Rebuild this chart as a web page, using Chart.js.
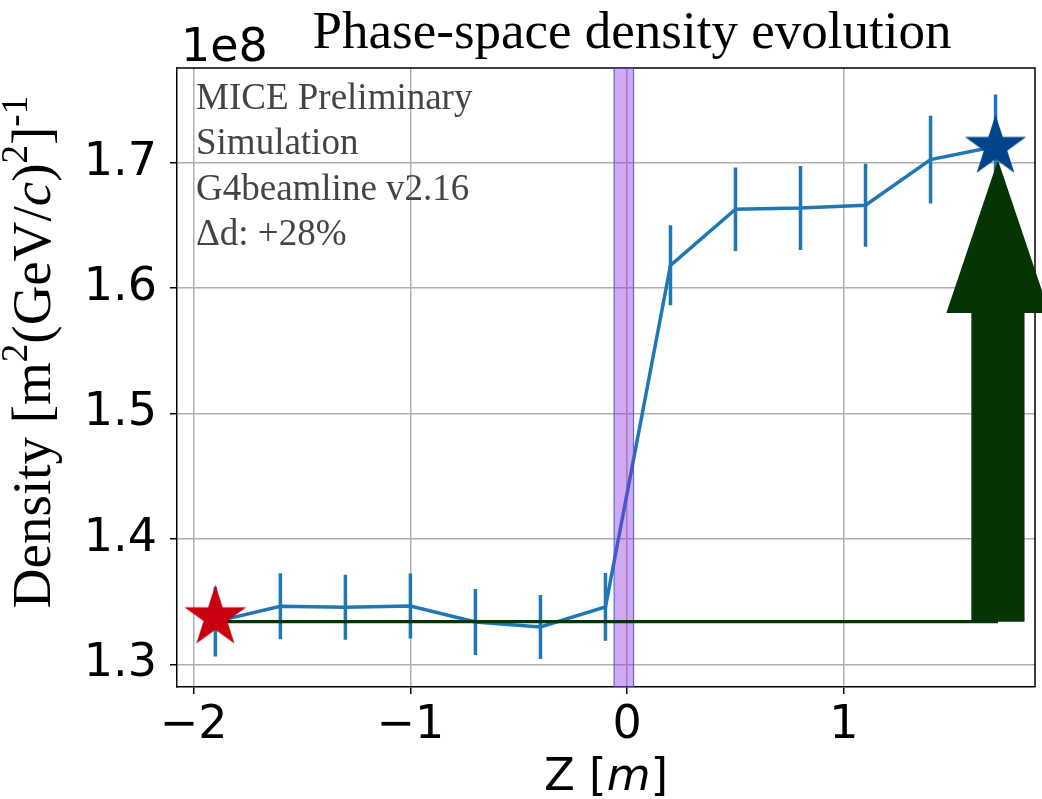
<!DOCTYPE html>
<html><head><meta charset="utf-8">
<script src="https://cdn.jsdelivr.net/npm/chart.js@4.4.0/dist/chart.umd.min.js"></script>
<style>html,body{margin:0;padding:0;background:#fff;overflow:hidden}#wrap{width:1042px;height:799px;position:relative}</style>
</head><body><div id="wrap"><canvas id="c"></canvas></div>
<script>
// ---- data ----
const zPositions = [-1.9, -1.6, -1.3, -1.0, -0.7, -0.4, -0.1, 0.2, 0.5, 0.8, 1.1, 1.4, 1.7];
const densities = [1.334, 1.3462, 1.3454, 1.3465, 1.3337, 1.3297, 1.3457, 1.6181, 1.6628, 1.6638, 1.6660, 1.7024, 1.7128];
const densityErrors = [0.0277, 0.0263, 0.0259, 0.0259, 0.0263, 0.0255, 0.0270, 0.0319, 0.0333, 0.0335, 0.0331, 0.0350, 0.0414];
const xTicks = [-2, -1, 0, 1];
const yTicks = [1.3, 1.4, 1.5, 1.6, 1.7];
const absorberZone = [-0.060, 0.0295];
const startStar = [-1.9, 1.3375];
const endStar = [1.7, 1.7125];
const referenceLevel = 1.334;
const referenceSpan = [-1.9, 1.711];
const arrowZ = 1.711;
const arrowRange = [1.334, 1.702];
const annotations = ['MICE Preliminary', 'Simulation', 'G4beamline v2.16', 'Δd: +28%'];
const titleText = 'Phase-space density evolution';
const offsetText = '1e8';

// ---- config ----
const X_MIN = -2.077, X_MAX = 1.882, Y_MIN = 1.2819, Y_MAX = 1.7754;
const SERIF = '"Liberation Serif", "Times New Roman", serif';
const SANS = '"DejaVu Sans", sans-serif';

function makeStar(color, R) {
  const s = Math.ceil(R * 2 + 4);
  const cv = document.createElement('canvas');
  cv.width = s; cv.height = s;
  const g = cv.getContext('2d');
  const r = R * 0.381966;
  g.beginPath();
  for (let i = 0; i < 10; i++) {
    const rr = i % 2 === 0 ? R : r;
    const a = -Math.PI / 2 + i * Math.PI / 5;
    const px = s / 2 + rr * Math.cos(a), py = s / 2 + rr * Math.sin(a);
    if (i === 0) g.moveTo(px, py); else g.lineTo(px, py);
  }
  g.closePath();
  g.fillStyle = color; g.fill();
  return cv;
}

const lineData = zPositions.map((z, i) => ({x: z, y: densities[i]}));
const errData = [];
zPositions.forEach((z, i) => {
  errData.push({x: z, y: densities[i] - densityErrors[i]}, {x: z, y: densities[i] + densityErrors[i]}, {x: z, y: null});
});
const bandData = [
  {x: absorberZone[0], y: Y_MIN}, {x: absorberZone[0], y: Y_MAX},
  {x: absorberZone[1], y: Y_MAX}, {x: absorberZone[1], y: Y_MIN}, {x: absorberZone[0], y: Y_MIN}
];
const refData = [{x: referenceSpan[0], y: referenceLevel}, {x: referenceSpan[1], y: referenceLevel}];

const arrowPlugin = {
  id: 'arrow',
  beforeDatasetDraw(chart, args) {
    if (chart.data.datasets[args.index].label !== 'start') return;
    const xs = chart.scales.x, ys = chart.scales.y, ctx = chart.ctx;
    const cx = xs.getPixelForValue(arrowZ);
    const yb = ys.getPixelForValue(arrowRange[0]);
    const yt = ys.getPixelForValue(arrowRange[1]);
    const headLen = 153, shaftHalf = 26.6, headHalf = 51.6;
    ctx.save();
    ctx.fillStyle = '#053505';
    ctx.beginPath();
    ctx.moveTo(cx - shaftHalf, yb);
    ctx.lineTo(cx - shaftHalf, yt + headLen);
    ctx.lineTo(cx - headHalf, yt + headLen);
    ctx.lineTo(cx, yt);
    ctx.lineTo(cx + headHalf, yt + headLen);
    ctx.lineTo(cx + shaftHalf, yt + headLen);
    ctx.lineTo(cx + shaftHalf, yb);
    ctx.closePath();
    ctx.fill();
    ctx.restore();
  }
};

function drawRich(ctx, parts, cx, cy, rotate) {
  ctx.save();
  ctx.translate(cx, cy);
  if (rotate) ctx.rotate(-Math.PI / 2);
  let total = 0;
  parts.forEach(p => { ctx.font = p.font; p.w = ctx.measureText(p.t).width; total += p.w; });
  let x = -total / 2;
  ctx.textBaseline = 'alphabetic'; ctx.textAlign = 'left';
  parts.forEach(p => { ctx.font = p.font; ctx.fillStyle = p.color || '#000'; ctx.fillText(p.t, x, p.dy || 0); x += p.w; });
  ctx.restore();
}

const framePlugin = {
  id: 'frame',
  beforeDatasetsDraw(chart) {
    const a = chart.chartArea, ctx = chart.ctx;
    ctx.save();
    ctx.strokeStyle = '#000'; ctx.lineWidth = 1.5;
    ctx.beginPath();
    ctx.moveTo(a.left, a.top); ctx.lineTo(a.right, a.top); ctx.lineTo(a.right, a.bottom);
    ctx.stroke();
    ctx.restore();
  },
  afterDraw(chart) {
    const ctx = chart.ctx, a = chart.chartArea;
    ctx.save();
    ctx.font = '53px ' + SERIF; ctx.fillStyle = '#000'; ctx.textAlign = 'center'; ctx.textBaseline = 'alphabetic';
    ctx.fillText(titleText, 632, 48);
    ctx.font = '46px ' + SANS; ctx.textAlign = 'left';
    ctx.fillText(offsetText, 181, 61);
    ctx.font = '37px ' + SERIF; ctx.fillStyle = '#444';
    annotations.forEach((t, i) => ctx.fillText(t, 196, 108.5 + i * 45.6));
    ctx.restore();
    const S = 55, sup = Math.round(S * 0.68), up = -S * 0.42;
    const nf = S + 'px ' + SERIF, sf = sup + 'px ' + SERIF, itf = 'italic ' + S + 'px ' + SERIF;
    drawRich(ctx, [
      {t: 'Density [m', font: nf}, {t: '2', font: sf, dy: up}, {t: '(GeV/', font: nf},
      {t: 'c', font: itf}, {t: ')', font: nf}, {t: '2', font: sf, dy: up}, {t: ']', font: nf},
      {t: '-1', font: sf, dy: up}
    ], 50, 352, true);
    const xf = '45px ' + SANS, xif = 'oblique 45px ' + SANS;
    drawRich(ctx, [{t: 'Z [', font: xf}, {t: 'm', font: xif}, {t: ']', font: xf}], (a.left + a.right) / 2, 790, false);
  }
};

new Chart(document.getElementById('c'), {
  type: 'line',
  data: {
    datasets: [
      {label: 'density', data: lineData, borderColor: '#1f77b4', borderWidth: 3.5, pointRadius: 0, tension: 0, order: 10, fill: false},
      {label: 'errors', data: errData, borderColor: '#1f77b4', borderWidth: 3.5, pointRadius: 0, spanGaps: false, order: 9, fill: false},
      {label: 'absorber', data: bandData, borderColor: 'rgba(60,90,220,0.85)', borderWidth: 1.2, backgroundColor: 'rgba(138,43,226,0.40)', fill: 'shape', pointRadius: 0, order: 8, tension: 0},
      {label: 'reference', data: refData, borderColor: '#053505', borderWidth: 3.4, pointRadius: 0, order: 6, fill: false},
      {label: 'start', data: [{x: startStar[0], y: startStar[1]}], showLine: false, pointStyle: makeStar('#c8000f', 32.5), pointRadius: 1, order: 2},
      {label: 'end', data: [{x: endStar[0], y: endStar[1]}], showLine: false, pointStyle: makeStar('#00458a', 32.2), pointRadius: 1, order: 1}
    ]
  },
  options: {
    responsive: true,
    maintainAspectRatio: false,
    animation: false,
    devicePixelRatio: 1,
    layout: {autoPadding: false, padding: {left: 0, right: 7, top: 68, bottom: 0}},
    plugins: {legend: {display: false}, tooltip: {enabled: false}, title: {display: false}},
    scales: {
      x: {
        type: 'linear', min: X_MIN, max: X_MAX,
        afterBuildTicks: s => { s.ticks = xTicks.map(v => ({value: v})); },
        afterFit: s => { s.height = 112; s.paddingLeft = 0; s.paddingRight = 0; },
        grid: {color: '#b0b0b0', lineWidth: 1.5, tickColor: '#000', tickLength: 7, tickWidth: 1.5},
        border: {display: true, color: '#000', width: 1.5},
        ticks: {font: {family: SANS, size: 46}, color: '#000', padding: 4, maxRotation: 0,
          callback: v => (v < 0 ? '\u2212' + Math.abs(v) : String(v))}
      },
      y: {
        type: 'linear', min: Y_MIN, max: Y_MAX,
        afterBuildTicks: s => { s.ticks = yTicks.map(v => ({value: v})); },
        afterFit: s => { s.width = 177; s.paddingTop = 0; s.paddingBottom = 0; },
        grid: {color: '#b0b0b0', lineWidth: 1.5, tickColor: '#000', tickLength: 7, tickWidth: 1.5},
        border: {display: true, color: '#000', width: 1.5},
        ticks: {font: {family: SANS, size: 46}, color: '#000', padding: 13, callback: v => v.toFixed(1)}
      }
    }
  },
  plugins: [arrowPlugin, framePlugin]
});
</script></body></html>
